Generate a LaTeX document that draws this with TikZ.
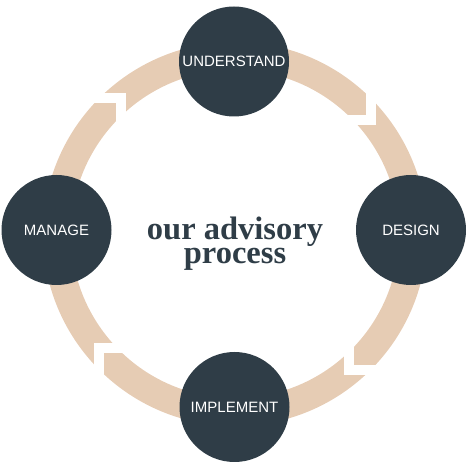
\documentclass[tikz,border=0pt]{standalone}
\usepackage{fontspec}
\setmainfont{Liberation Sans}
\newfontfamily\titlefont{Liberation Serif}
\usepackage{tikz}
\usetikzlibrary{calc,positioning}
\definecolor{ringtan}{RGB}{230,204,180}
\definecolor{slate}{RGB}{47,61,71}
\tikzset{
  stage/.style={circle, fill=slate, text=white, inner sep=0pt, minimum size=110pt,
    font=\fontsize{15}{18}\selectfont},
  ring/.style={draw=ringtan, line width=28pt},
  gapline/.style={draw=white, line width=10pt, line join=miter},
}

\begin{document}
\begin{tikzpicture}[x=1pt,y=1pt]
  \useasboundingbox (0,0) rectangle (468,468);
  \coordinate (c) at (235,234);
  \def\ringradius{178}

  \draw[ring] (c) circle (\ringradius pt);
  % cuts between the arrows
  \foreach \a in {40,-50,-140,130}
    {
      \coordinate (g) at ($(c)+(\a:\ringradius)$);
      \draw[gapline] ($(g)+(\a+50:32)$) -- (g) -- ($(g)+(\a+140:32)$);
    }

  \node[stage] (understand) at (234,406.5) {UNDERSTAND};
  \node[stage] (design) at (411,238) {DESIGN};
  \node[stage] (implement) at (234.5,61) {IMPLEMENT};
  \node[stage] (manage) at (56.5,238) {MANAGE};

  \node[inner sep=0pt, align=center, text=slate,
    font=\titlefont\bfseries\fontsize{32.5}{23.4}\selectfont] (title) at (235,224.5)
    {our advisory\\process};
\end{tikzpicture}
\end{document}
